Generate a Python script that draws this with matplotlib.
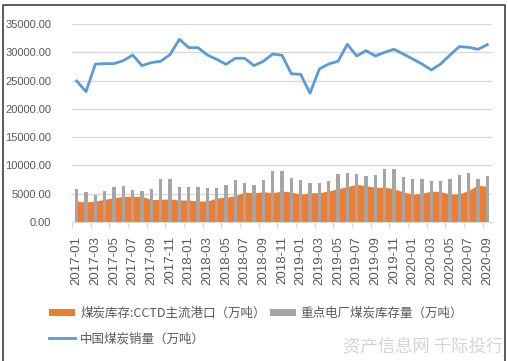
import numpy as np
import matplotlib
import matplotlib.pyplot as plt
from matplotlib.lines import Line2D

plt.switch_backend('agg')
plt.rcParams['font.family'] = ['Liberation Sans', 'Noto Sans CJK SC']

# 2017-01 .. 2020-09
months = ['%d-%02d' % (y, m) for y in range(2017, 2021) for m in range(1, 13)][:45]

port_stock = [3710, 3540, 3710, 4010, 4300, 4540, 4540, 4540, 3950, 4010,
              4070, 3890, 3890, 3710, 3710, 4240, 4360, 4660, 5300, 5130,
              5360, 5180, 5480, 5300, 4890, 5180, 5180, 5480, 5890, 6250,
              6660, 6420, 6130, 6130, 5890, 5300, 4890, 5070, 5480, 5360,
              4950, 4950, 5600, 6540, 6250]
plant_stock = [5780, 5300, 4770, 5480, 6130, 6360, 5600, 5480, 5890, 7540,
               7540, 6190, 6190, 6190, 6010, 6010, 6480, 7370, 6950, 6480,
               7370, 9020, 9100, 7840, 7370, 6840, 6840, 7250, 8430, 8720,
               8430, 8130, 8250, 9430, 9430, 7960, 7660, 7660, 7250, 7250,
               7540, 8310, 8600, 7540, 8070]
sales = [24930, 23040, 27900, 28000, 28000, 28520, 29520, 27640, 28170, 28410,
         29580, 32300, 30820, 30820, 29520, 28760, 27880, 28940, 28940, 27640,
         28410, 29700, 29470, 26200, 26110, 22750, 27050, 27930, 28410, 31410,
         29350, 30290, 29350, 30000, 30530, 29700, 28820, 27930, 26870, 27930,
         29520, 31000, 30880, 30530, 31350]

label_port = '煤炭库存:CCTD主流港口（万吨）'
label_plant = '重点电厂煤炭库存量（万吨）'
label_sales = '中国煤炭销量（万吨）'

text_color = '#595959'
W, H = 508, 361
fig = plt.figure(figsize=(W / 100, H / 100), dpi=100)
ax = fig.add_axes([72 / W, 1 - 222 / H, 420 / W, 198 / H])

x = np.arange(len(months))
area = ax.fill_between(x, port_stock, 0, color='#ed7d31', lw=0, zorder=2, label=label_port)
bars = ax.bar(x, plant_stock, width=0.36, color='#a5a5a5', zorder=3, label=label_plant)
line, = ax.plot(x, sales, color='#5b9bd5', lw=2.0, zorder=4, label=label_sales)

ax.set_xlim(-0.5, len(months) - 0.5)
ax.set_ylim(0, 35000)
ax.set_yticks(np.arange(0, 35001, 5000))
ax.set_yticklabels(['%.2f' % v for v in np.arange(0, 35001, 5000)])
ax.grid(axis='y', color='#d9d9d9', lw=1.0, zorder=0)
ax.set_axisbelow(True)

ax.set_xticks(x[::2])
ax.set_xticklabels(months[::2], rotation=90)
ax.set_xticks(np.arange(-0.5, len(months), 2), minor=True)
ax.tick_params(axis='x', which='major', length=0, pad=10, labelsize=9.5, labelcolor=text_color)
ax.tick_params(axis='x', which='minor', length=4, color='#d9d9d9', width=1)
ax.tick_params(axis='y', length=0, pad=15, labelsize=8, labelcolor=text_color)

for s in ['left', 'right', 'top']:
    ax.spines[s].set_visible(False)
ax.spines['bottom'].set_color('#d9d9d9')

leg = fig.legend(handles=[area, line, bars], ncol=2, loc='upper left',
                 bbox_to_anchor=(44 / W, 1 - 302 / H), frameon=False,
                 prop={'family': ['Noto Sans CJK SC', 'DejaVu Sans'], 'size': 9},
                 handlelength=2.1, handleheight=0.55, handletextpad=0.4,
                 columnspacing=0.3, labelspacing=1.0, borderaxespad=0)
for t in leg.get_texts():
    t.set_color(text_color)

fig.text(503 / W, 1 - 346 / H, '资产信息网 千际投行', ha='right', va='center',
         fontsize=12.5, color='#d4d4d4', family=['Noto Sans CJK SC', 'DejaVu Sans'])

# outer frame (left, top, right)
fx = [2.5 / W, 2.5 / W, 505 / W, 505 / W]
fy = [0, 1 - 5 / H, 1 - 5 / H, 0]
fig.add_artist(Line2D(fx, fy, transform=fig.transFigure, color='#404040', lw=1.2))

fig.savefig('out.png', dpi=100)
